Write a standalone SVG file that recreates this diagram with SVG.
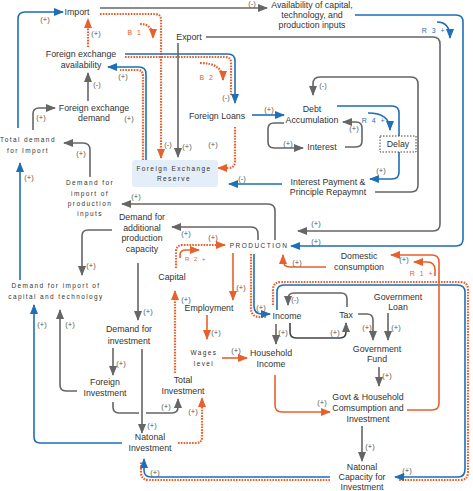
<svg xmlns="http://www.w3.org/2000/svg" width="473" height="491" viewBox="0 0 473 491">
<style>
.t{font-family:"Liberation Sans",Arial,sans-serif;font-size:8.8px;fill:#333;text-anchor:middle}
.s{font-family:"Liberation Sans",Arial,sans-serif;font-size:6.5px;letter-spacing:1.4px;fill:#333;text-anchor:middle}
.p{font-family:"Liberation Sans",Arial,sans-serif;font-size:7.5px;fill:#555;text-anchor:middle}
.lo{font-family:"Liberation Sans",Arial,sans-serif;font-size:7px;letter-spacing:1.5px;fill:#e8602c;text-anchor:middle}
.lb{font-family:"Liberation Sans",Arial,sans-serif;font-size:7px;letter-spacing:1.5px;fill:#1e6eb8;text-anchor:middle}
.g{fill:none;stroke:#666;stroke-width:1.6}
.gd{fill:none;stroke:#444;stroke-width:1.6}
.b{fill:none;stroke:#1e6eb8;stroke-width:1.6}
.o{fill:none;stroke:#e8602c;stroke-width:1.6}
.od{fill:none;stroke:#e8602c;stroke-width:2.2;stroke-dasharray:1.6 1.2}
.ga{marker-end:url(#ag)}
.ba{marker-end:url(#ab)}
.oa{marker-end:url(#ao)}
</style>
<defs>
<marker id="ag" markerUnits="userSpaceOnUse" markerWidth="10" markerHeight="8" refX="9" refY="4" orient="auto"><path d="M0,0 L10,4 L0,8 z" fill="#666"/></marker>
<marker id="ab" markerUnits="userSpaceOnUse" markerWidth="10" markerHeight="8" refX="9" refY="4" orient="auto"><path d="M0,0 L10,4 L0,8 z" fill="#1e6eb8"/></marker>
<marker id="ao" markerUnits="userSpaceOnUse" markerWidth="10" markerHeight="8" refX="9" refY="4" orient="auto"><path d="M0,0 L10,4 L0,8 z" fill="#e8602c"/></marker>
</defs>
<rect width="473" height="491" fill="#fff"/>

<g id="connectors">
<path class="b ba" d="M18,128 V19 Q18,12 25,12 H63"/>
<path class="g ga" d="M100,8 H267"/>
<path class="od oa" d="M100,14 H155 Q161,14 161,20 V158"/>
<path class="od oa" d="M140,24 Q153,24 153,38"/>
<path class="od oa" d="M88,47 V19"/>
<path class="g ga" d="M88,101 V73"/>
<path class="g ga" d="M33,130 V114 Q33,108 39,108 H55"/>
<path class="od" d="M143,160 V76 Q143,70 137,70 H120"/>
<path class="b ba" d="M146,160 V74 Q146,67 139,67 H108"/>
<path class="od" d="M125,57 H225 Q231,57 231,63 V96"/>
<path class="b ba" d="M125,54 H228 Q235,54 235,61 V103"/>
<path class="od oa" d="M200,63 Q223,63 223,80"/>
<path class="g ga" d="M178,43 V157"/>
<path class="g ga" d="M206,37 H433 Q440,37 440,44 V224 Q440,231 433,231 H298"/>
<path class="b ba" d="M355,15 H456 Q463,15 463,22 V239 Q463,246 456,246 H291"/>
<path class="b ba" d="M437,22 Q450,22 450,38"/>
<path class="b ba" d="M252,115 H284"/>
<path class="od oa" d="M235,127 V161 Q235,168 228,168 H218"/>
<path class="g ga" d="M284,123 H274 Q268,123 268,129 V142 Q268,148 274,148 H303"/>
<path class="g ga" d="M345,147 H356 Q362,147 362,141 V128 Q362,122 356,122 H343"/>
<path class="b ba" d="M337,106 H392 Q399,106 399,113 V172 Q399,179 392,179 H370"/>
<path class="b ba" d="M368,113 Q390,113 390,130"/>
<path class="g ga" d="M375,192 H411 Q418,192 418,185 V84 Q418,77 411,77 H320 Q313,77 313,84 V95"/>
<path class="b ba" d="M282,184 H229"/>
<path class="g ga" d="M275,240 V211 Q275,204 268,204 H122"/>
<path class="g ga" d="M258,240 V234 Q258,227 251,227 H172"/>
<path class="g ga" d="M112,230 H88 Q82,230 82,236 V275"/>
<path class="g ga" d="M90,177 V150 Q90,143 83,143 H64"/>
<path class="b ba" d="M20,280 V163"/>
<path class="g ga" d="M138,263 V320"/>
<path class="b ba" d="M122,443 H40 Q34,443 34,437 V305"/>
<path class="g ga" d="M77,391 H66 Q60,391 60,385 V310"/>
<path class="g ga" d="M113,348 V375"/>
<path class="g ga" d="M142,349 V433"/>
<path class="g" d="M113,402 V407 Q113,413 119,413 H139"/>
<path class="g ga" d="M146,413 H172 Q178,413 178,407 V399"/>
<path class="od oa" d="M178,443 H196 Q202,443 202,437 V398"/>
<path class="od oa" d="M175,373 V291"/>
<path class="od oa" d="M176,268 V252 Q176,245 183,245 H225"/>
<path class="o oa" d="M180,258 V255 Q180,250 186,250 H199"/>
<path class="o oa" d="M233,253 V300"/>
<path class="od" d="M251,254 V308 Q251,317 260,317 H266"/>
<path class="b ba" d="M254,254 V306 Q254,314 262,314 H270"/>
<path class="od" d="M273,305 V290 Q273,282 281,282 H460 Q468,282 468,290 V472 Q468,480 460,480 H398"/>
<path class="b ba" d="M277,310 V292 Q277,285 284,285 H457 Q465,285 465,292 V469 Q465,477 458,477 H395"/>
<path class="od" d="M330,480 H149 Q141,480 141,472 V462"/>
<path class="b ba" d="M330,477 H151 Q144,477 144,470 V459"/>
<path class="o oa" d="M326,267 H290 Q283,267 283,260 V255"/>
<path class="o oa" d="M407,410 H432 Q439,410 439,403 V262 Q439,255 432,255 H391"/>
<path class="o oa" d="M435,276 V270 Q435,262 427,262 H414"/>
<path class="o oa" d="M275,375 V405 Q275,412 282,412 H330"/>
<path class="o oa" d="M222,358 H247"/>
<path class="o oa" d="M207,315 V339"/>
<path class="g ga" d="M276,324 V344"/>
<path class="g ga" d="M347,307 V299 Q347,293 341,293 H294 Q288,293 288,299 V305"/>
<path class="gd ga" d="M290,323 V332 Q290,338 296,338 H340 Q346,338 346,332 V323"/>
<path class="g ga" d="M358,314 H367 Q373,314 373,320 V340"/>
<path class="g ga" d="M388,313 V340"/>
<path class="g ga" d="M379,367 V386"/>
<path class="g ga" d="M362,426 V461"/>
</g>

<g id="polarity">
<text class="p" x="45" y="22">(+)</text>
<text class="p" x="252" y="6">(-)</text>
<text class="p" x="168" y="147">(-)</text>
<text class="p" x="96" y="36">(+)</text>
<text class="p" x="97" y="87">(-)</text>
<text class="p" x="41" y="120">(+)</text>
<text class="p" x="129" y="121">(+)</text>
<text class="p" x="123" y="79">(+)</text>
<text class="p" x="226" y="100">(-)</text>
<text class="p" x="187" y="149">(+)</text>
<text class="p" x="316" y="226">(+)</text>
<text class="p" x="316" y="244">(+)</text>
<text class="p" x="269" y="112">(+)</text>
<text class="p" x="213" y="147">(+)</text>
<text class="p" x="288" y="146">(+)</text>
<text class="p" x="354" y="131">(+)</text>
<text class="p" x="381" y="173">(+)</text>
<text class="p" x="323" y="88">(-)</text>
<text class="p" x="242" y="181">(-)</text>
<text class="p" x="136" y="199">(+)</text>
<text class="p" x="186" y="236">(+)</text>
<text class="p" x="91" y="268">(+)</text>
<text class="p" x="81" y="156">(+)</text>
<text class="p" x="29" y="180">(+)</text>
<text class="p" x="148" y="314">(+)</text>
<text class="p" x="42" y="327">(+)</text>
<text class="p" x="70" y="327">(+)</text>
<text class="p" x="121" y="366">(+)</text>
<text class="p" x="152" y="428">(+)</text>
<text class="p" x="166" y="409">(+)</text>
<text class="p" x="193" y="414">(+)</text>
<text class="p" x="186" y="302">(+)</text>
<text class="p" x="213" y="240">(+)</text>
<text class="p" x="241" y="290">(+)</text>
<text class="p" x="261" y="310">(+)</text>
<text class="p" x="407" y="473">(+)</text>
<text class="p" x="155" y="475">(+)</text>
<text class="p" x="297" y="265">(+)</text>
<text class="p" x="404" y="262">(+)</text>
<text class="p" x="322" y="405">(+)</text>
<text class="p" x="236" y="353">(+)</text>
<text class="p" x="216" y="335">(+)</text>
<text class="p" x="283" y="335">(+)</text>
<text class="p" x="295" y="302">(-)</text>
<text class="p" x="335" y="335">(+)</text>
<text class="p" x="367" y="330">(+)</text>
<text class="p" x="396" y="330">(+)</text>
<text class="p" x="387" y="378">(+)</text>
<text class="p" x="370" y="449">(+)</text>
</g>

<g id="loops">
<text class="lo" x="135" y="35">B 1</text>
<text class="lo" x="207" y="80">B 2</text>
<text class="lb" x="434" y="33">R 3 +</text>
<text class="lb" x="374" y="123">R 4 +</text>
<text class="lo" x="422" y="276">R 1 +</text>
<text class="lo" x="196" y="261" style="font-size:6px">R 2 +</text>
</g>

<g id="n-import"><text class="t" x="77" y="15">Import</text></g>
<g id="n-availability"><text class="t" x="312" y="8">Availability of capital,</text><text class="t" x="312" y="18">technology, and</text><text class="t" x="312" y="28">production inputs</text></g>
<g id="n-fx-availability"><text class="t" x="81" y="57">Foreign exchange</text><text class="t" x="81" y="68">availability</text></g>
<g id="n-export"><text class="t" x="189" y="40">Export</text></g>
<g id="n-fx-demand"><text class="t" x="94" y="111">Foreign exchange</text><text class="t" x="94" y="121">demand</text></g>
<g id="n-total-demand"><text class="s" x="28" y="142">Total demand</text><text class="s" x="28" y="153">for Import</text></g>
<g id="n-demand-prod-inputs"><text class="s" x="90" y="185">Demand for</text><text class="s" x="90" y="196">import of</text><text class="s" x="90" y="206">production</text><text class="s" x="90" y="216">inputs</text></g>
<g id="n-reserve"><rect x="132" y="160" width="86" height="27" rx="3" fill="#e4eef8"/><text class="s" x="174" y="171">Foreign Exchange</text><text class="s" x="174" y="181">Reserve</text></g>
<g id="n-foreign-loans"><text class="t" x="217" y="119">Foreign Loans</text></g>
<g id="n-debt"><text class="t" x="312" y="112">Debt</text><text class="t" x="312" y="123">Accumulation</text></g>
<g id="n-interest"><text class="t" x="322" y="150">Interest</text></g>
<g id="n-delay"><rect x="380" y="136" width="36" height="16" fill="#fff" stroke="#444" stroke-width="1" stroke-dasharray="1.5 1.5"/><text class="t" x="398" y="147">Delay</text></g>
<g id="n-interest-payment"><text class="t" x="328" y="185">Interest Payment &amp;</text><text class="t" x="328" y="195">Principle Repaymnt</text></g>
<g id="n-demand-additional"><text class="t" x="142" y="220">Demand for</text><text class="t" x="142" y="231">additional</text><text class="t" x="142" y="241">production</text><text class="t" x="142" y="252">capacity</text></g>
<g id="n-production"><text class="s" x="259" y="248" style="letter-spacing:1.5px">PRODUCTION</text></g>
<g id="n-demand-capital-tech"><text class="s" x="56" y="288">Demand for import of</text><text class="s" x="56" y="299">capital and technology</text></g>
<g id="n-capital"><text class="t" x="172" y="280">Capital</text></g>
<g id="n-domestic"><text class="t" x="359" y="259">Domestic</text><text class="t" x="359" y="270">consumption</text></g>
<g id="n-employment"><text class="t" x="209" y="311">Employment</text></g>
<g id="n-income"><text class="t" x="287" y="319">Income</text></g>
<g id="n-tax"><text class="t" x="346" y="318">Tax</text></g>
<g id="n-gov-loan"><text class="t" x="398" y="300">Government</text><text class="t" x="398" y="310">Loan</text></g>
<g id="n-wages"><text class="s" x="204" y="355">Wages</text><text class="s" x="204" y="366">level</text></g>
<g id="n-household"><text class="t" x="271" y="356">Household</text><text class="t" x="271" y="367">Income</text></g>
<g id="n-gov-fund"><text class="t" x="377" y="352">Government</text><text class="t" x="377" y="362">Fund</text></g>
<g id="n-demand-investment"><text class="t" x="129" y="332">Demand for</text><text class="t" x="129" y="344">investment</text></g>
<g id="n-foreign-investment"><text class="t" x="105" y="385">Foreign</text><text class="t" x="105" y="396">Investment</text></g>
<g id="n-total-investment"><text class="t" x="183" y="383">Total</text><text class="t" x="183" y="394">Investment</text></g>
<g id="n-national-investment"><text class="t" x="150" y="440">Natonal</text><text class="t" x="150" y="451">Investment</text></g>
<g id="n-govt-household"><text class="t" x="368" y="400">Govt &amp; Household</text><text class="t" x="368" y="411">Comsumption and</text><text class="t" x="368" y="422">Investment</text></g>
<g id="n-national-capacity"><text class="t" x="362" y="470">Natonal</text><text class="t" x="362" y="480">Capacity for</text><text class="t" x="362" y="490">Investment</text></g>
</svg>
